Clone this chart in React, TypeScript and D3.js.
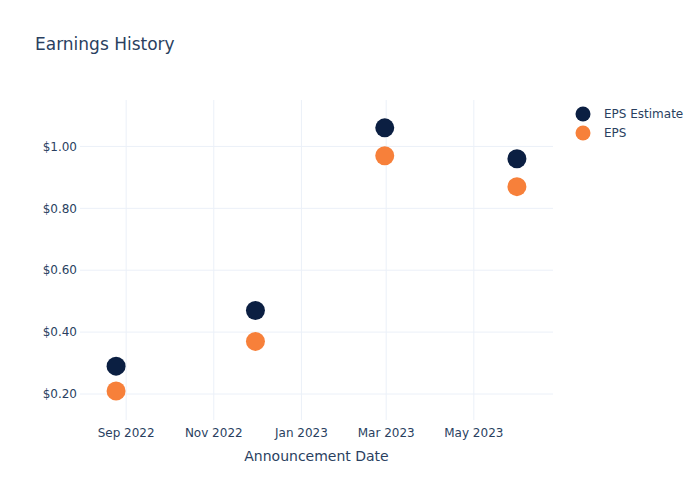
import React from "react";
import * as d3 from "d3";

const dates = ["2022-08-25", "2022-11-30", "2023-02-28", "2023-05-31"];
const epsEstimate = [0.29, 0.47, 1.06, 0.96];
const eps = [0.21, 0.37, 0.97, 0.87];
const xTickDates = ["2022-09-01", "2022-11-01", "2023-01-01", "2023-03-01", "2023-05-01"];
const yTicks = [0.2, 0.4, 0.6, 0.8, 1.0];
const seriesNames = ["EPS Estimate", "EPS"];
const seriesColors = ["#0b1f42", "#f7803a"];

const W = 700, H = 500;
const M = { l: 80, r: 147, t: 100, b: 80 };
const FONT = "'DejaVu Sans', verdana, arial, sans-serif";
const TEXT = "#2a3f5f";
const GRID = "#ebf0f8";

export default function App() {
  const parse = d3.utcParse("%Y-%m-%d");
  const xs = dates.map((d) => parse(d)!);
  const x0 = xs[0].getTime(), x1 = xs[xs.length - 1].getTime();
  const pad = (x1 - x0) * 0.09;
  const x = d3.scaleUtc().domain([new Date(x0 - pad), new Date(x1 + pad)]).range([M.l, W - M.r]);
  const y = d3.scaleLinear().domain([0.116, 1.15]).range([H - M.b, M.t]);
  const fmtX = d3.utcFormat("%b %Y");
  const series = [epsEstimate, eps];
  return (
    <svg width={W} height={H} style={{ position: "absolute", left: 0, top: 0, fontFamily: FONT }}>
      <rect width={W} height={H} fill="#fff" />
      {yTicks.map((t) => (
        <g key={"y" + t}>
          <line x1={M.l} x2={W - M.r} y1={y(t)} y2={y(t)} stroke={GRID} strokeWidth={1} />
          <text x={M.l - 3} y={y(t)} dy="0.35em" textAnchor="end" fontSize={12} fill={TEXT}>
            {"$" + t.toFixed(2)}
          </text>
        </g>
      ))}
      {xTickDates.map((d) => {
        const dt = parse(d)!;
        return (
          <g key={d}>
            <line x1={x(dt)} x2={x(dt)} y1={M.t} y2={H - M.b} stroke={GRID} strokeWidth={1} />
            <text x={x(dt)} y={H - M.b + 13} dy="0.35em" textAnchor="middle" fontSize={12} fill={TEXT}>
              {fmtX(dt)}
            </text>
          </g>
        );
      })}
      {series.map((vals, si) =>
        vals.map((v, i) => (
          <circle key={si + "-" + i} cx={x(xs[i])} cy={y(v)} r={9.5} fill={seriesColors[si]} />
        ))
      )}
      <text x={(M.l + W - M.r) / 2} y={456} dy="0.35em" textAnchor="middle" fontSize={14} fill={TEXT}>
        Announcement Date
      </text>
      <text x={35} y={44} dy="0.35em" fontSize={17} fill={TEXT}>
        Earnings History
      </text>
      {seriesNames.map((n, i) => (
        <g key={n} transform={`translate(583, ${114 + i * 19})`}>
          <circle r={7.5} fill={seriesColors[i]} />
          <text x={21} dy="0.35em" fontSize={12} fill={TEXT}>{n}</text>
        </g>
      ))}
    </svg>
  );
}
